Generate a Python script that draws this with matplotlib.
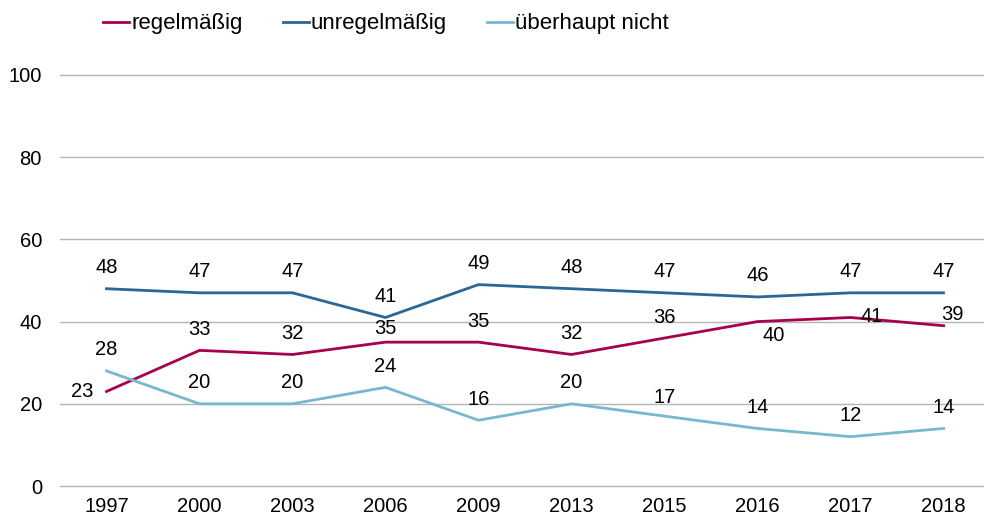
import matplotlib
matplotlib.use("Agg")
import matplotlib.pyplot as plt

# Daten
jahre = ["1997", "2000", "2003", "2006", "2009", "2013", "2015", "2016", "2017", "2018"]
regelmaessig = [23, 33, 32, 35, 35, 32, 36, 40, 41, 39]
unregelmaessig = [48, 47, 47, 41, 49, 48, 47, 46, 47, 47]
ueberhaupt_nicht = [28, 20, 20, 24, 16, 20, 17, 14, 12, 14]

plt.rcParams['font.family'] = ['Liberation Sans', 'DejaVu Sans']

farben = {'regelmäßig': '#A6004F', 'unregelmäßig': '#2B6796', 'überhaupt nicht': '#78B8CF'}

fig = plt.figure(figsize=(9.84, 5.18), dpi=100)
ax = fig.add_axes([60/984, 32/518, 930/984, 411/518])

x = list(range(len(jahre)))
ax.plot(x, regelmaessig, color=farben['regelmäßig'], lw=2.0, label='regelmäßig')
ax.plot(x, unregelmaessig, color=farben['unregelmäßig'], lw=2.0, label='unregelmäßig')
ax.plot(x, ueberhaupt_nicht, color=farben['überhaupt nicht'], lw=2.0, label='überhaupt nicht')

# Beschriftungen (meist über dem Punkt, einige verschoben)
fs = 14.5
def beschriften(werte, sonder={}):
    for i, v in enumerate(werte):
        dx, dy = sonder.get(i, (0, 21))
        ax.annotate(str(v), (i, v), xytext=(dx, dy), textcoords='offset pixels',
                    ha='center', va='center', fontsize=fs, color='black')

beschriften(regelmaessig, {0: (-24, 0), 3: (0, 14), 7: (16, -14), 8: (21, 1), 9: (9, 11)})
beschriften(unregelmaessig)
beschriften(ueberhaupt_nicht, {6: (0, 19)})

ax.set_xlim(-0.5, len(jahre) - 0.5)
ax.set_ylim(0, 100)
ax.set_yticks([0, 20, 40, 60, 80, 100])
ax.set_xticks(x)
ax.set_xticklabels(jahre)
ax.grid(axis='y', color='#B4B4B4', lw=1.0)
for gl in ax.get_ygridlines():
    gl.set_clip_on(False)
ax.set_axisbelow(True)
for s in ax.spines.values():
    s.set_visible(False)
ax.tick_params(axis='both', length=0, labelsize=14.5)
ax.tick_params(axis='y', pad=13)
ax.tick_params(axis='x', pad=8)

ax.legend(loc='center left', bbox_to_anchor=(103/984, 1 - 24/518), bbox_transform=fig.transFigure,
          ncol=3, frameon=False, fontsize=16, handlelength=1.17, handletextpad=0.1,
          columnspacing=1.8, borderpad=0, borderaxespad=0)

fig.savefig("out.png", dpi=100)
